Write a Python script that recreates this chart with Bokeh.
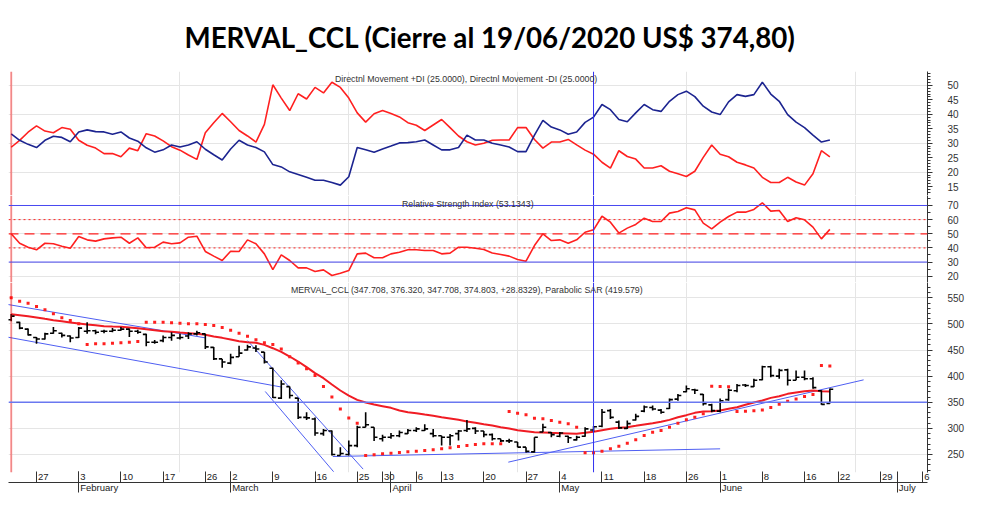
from bokeh.plotting import figure
from bokeh.layouts import column
from bokeh.models import Range1d, LinearAxis, FixedTicker, Span, Label, ColumnDataSource
from bokeh.transform import dodge
from bokeh.embed import file_html
from bokeh.resources import INLINE

# ---------------- data (trading-day index 0 = 22 Jan 2020) ----------------
PLUS_DI = [33.2, 31.0, 29.6, 28.5, 31.0, 32.4, 32.0, 30.5, 33.9, 34.6, 34.0, 33.9, 33.1, 33.9, 31.8, 30.7,
           28.4, 26.9, 27.7, 29.4, 28.7, 29.4, 30.5, 27.9, 26.0, 24.2, 28.0, 31.0, 29.4, 28.5, 27.0, 22.6,
           21.8, 20.1, 19.2, 18.2, 17.2, 17.2, 16.4, 15.5, 18.4, 28.5, 27.7, 26.9, 28.0, 29.0, 30.1, 30.2,
           30.5, 31.1, 29.4, 27.7, 27.7, 28.5, 32.8, 31.1, 31.1, 30.0, 29.4, 28.7, 27.1, 27.1, 32.8, 37.9,
           35.6, 34.6, 33.1, 33.9, 37.2, 39.0, 43.4, 41.6, 38.2, 37.4, 40.5, 43.4, 41.6, 41.0, 44.5, 46.8,
           48.0, 46.1, 42.8, 40.8, 39.9, 44.3, 46.8, 46.2, 46.8, 51.1, 47.0, 44.5, 39.9, 37.3, 35.4, 32.8,
           30.4, 31.1]
MINUS_DI = [28.6, 31.0, 33.8, 36.0, 34.2, 33.6, 35.4, 34.8, 31.0, 29.3, 28.3, 26.4, 26.4, 25.3, 28.3, 27.4,
            33.3, 32.5, 30.8, 28.8, 27.6, 25.9, 24.4, 33.6, 37.1, 40.3, 37.4, 34.4, 32.5, 30.4, 36.5, 50.2,
            45.6, 41.3, 47.1, 45.3, 49.3, 47.4, 51.1, 49.3, 45.6, 40.5, 37.3, 40.2, 41.3, 40.3, 39.1, 37.1,
            36.2, 34.4, 36.3, 38.2, 35.4, 32.5, 30.5, 29.4, 30.0, 31.0, 31.1, 31.1, 35.4, 35.4, 31.3, 28.3,
            30.4, 30.4, 31.3, 29.4, 27.6, 26.2, 23.4, 21.4, 27.4, 25.4, 24.5, 21.4, 21.4, 22.2, 20.3, 19.4,
            18.5, 20.3, 25.1, 29.4, 26.2, 25.3, 23.4, 22.5, 21.4, 18.2, 16.4, 16.4, 18.2, 16.6, 15.5, 19.4,
            27.4, 25.3]
RSI = [50.0, 43.3, 40.5, 38.7, 43.3, 42.9, 41.2, 39.8, 48.1, 45.7, 44.8, 46.4, 47.1, 47.6, 43.3, 47.1,
       40.1, 40.5, 44.1, 42.9, 43.6, 47.6, 48.3, 37.5, 34.2, 31.1, 37.7, 37.5, 45.7, 42.9, 35.8, 24.7,
       35.1, 31.1, 25.9, 25.9, 23.3, 24.5, 20.5, 22.1, 24.0, 35.8, 36.3, 33.0, 33.0, 35.8, 37.0, 38.7,
       38.7, 38.2, 38.2, 35.8, 36.3, 40.5, 40.5, 39.8, 38.9, 36.4, 35.3, 34.2, 31.8, 30.6, 41.7, 50.0,
       45.2, 45.7, 43.3, 45.7, 51.1, 52.8, 62.4, 58.2, 50.5, 54.0, 56.6, 61.0, 58.7, 58.7, 64.6, 65.8,
       68.4, 66.9, 57.5, 53.5, 58.2, 62.2, 65.3, 65.3, 67.2, 71.9, 66.0, 66.5, 58.7, 61.3, 59.9, 54.7,
       46.4, 53.1]
OPEN = [508, 503, 490, 474, 471, 482, 482, 477, 474, 486, 487, 486, 486, 488, 490, 486,
        480, 465, 468, 474, 473, 477, 481, 481, 455, 433, 425, 437, 450, 454, 446, 415,
        358, 380, 358, 321, 318, 290, 295, 248, 250, 267, 302, 302, 280, 283, 286, 290,
        296, 296, 290, 286, 283, 290, 296, 300, 295, 288, 280, 276, 274, 264, 255, 293,
        292, 285, 285, 278, 285, 297, 304, 334, 312, 300, 316, 333, 340, 335, 338, 356,
        370, 374, 365, 345, 333, 355, 372, 383, 380, 393, 418, 400, 412, 392, 398, 395,
        372, 347.708]
HIGH = [519, 504, 491, 475, 483, 494, 483, 478, 494, 503, 489, 489, 492, 494, 491, 489,
        481, 469, 478, 484, 481, 484, 487, 481, 456, 433, 443, 458, 460, 459, 446, 416,
        392, 380, 358, 331, 321, 299, 296, 264, 277, 305, 331, 302, 288, 291, 296, 299,
        302, 308, 299, 286, 289, 297, 316, 302, 295, 290, 280, 280, 274, 264, 283, 309,
        293, 293, 286, 286, 302, 304, 337, 337, 315, 315, 328, 344, 344, 337, 357, 366,
        382, 376, 366, 347, 357, 376, 385, 385, 395, 420, 420, 414, 414, 411, 411, 398,
        373, 376.320]
LOW = [505, 490, 478, 462, 470, 481, 474, 465, 473, 481, 480, 482, 484, 487, 475, 481,
       457, 462, 465, 468, 470, 471, 478, 452, 431, 416, 423, 437, 449, 446, 424, 358,
       356, 357, 318, 316, 286, 286, 248, 248, 248, 264, 302, 276, 275, 280, 283, 289,
       293, 295, 283, 267, 267, 277, 293, 289, 283, 277, 274, 272, 264, 254, 254, 293,
       283, 283, 272, 277, 284, 293, 302, 318, 299, 299, 315, 331, 334, 328, 337, 353,
       369, 366, 344, 331, 331, 353, 369, 379, 379, 392, 398, 395, 382, 392, 392, 376,
       345, 347.708]
CLOSE = [515, 492, 479, 471, 481, 487, 478, 473, 492, 487, 484, 486, 488, 490, 486, 484,
         465, 465, 474, 478, 474, 481, 483, 456, 433, 427, 436, 444, 456, 452, 427, 359,
         385, 363, 321, 320, 291, 296, 250, 252, 267, 302, 307, 283, 283, 286, 292, 296,
         299, 299, 286, 283, 286, 295, 299, 295, 288, 280, 276, 276, 264, 256, 283, 302,
         288, 291, 282, 283, 299, 303, 331, 321, 301, 309, 323, 341, 337, 331, 355, 363,
         376, 373, 347, 334, 353, 373, 382, 382, 392, 418, 401, 411, 392, 398, 395, 378,
         346, 374.803]
MA = [518.6, 516.7, 514.8, 512.3, 509.7, 507.2, 505.2, 502.7, 500.8, 498.9, 497.6, 495.7, 495.0, 494.4,
      493.1, 491.8, 489.9, 488.0, 486.1, 484.8, 483.5, 482.3, 481.0, 479.1, 475.9, 473.3, 470.1, 466.9,
      465.0, 463.8, 459.9, 453.5, 446.5, 437.6, 428.0, 417.2, 405.7, 396.1, 384.0, 372.5, 362.9, 354.6,
      349.5, 345.7, 342.5, 339.3, 334.2, 331.0, 329.1, 326.5, 324.0, 321.4, 318.9, 316.3, 313.1, 310.6,
      308.0, 305.5, 302.3, 299.7, 296.5, 294.6, 292.7, 292.1, 291.4, 290.8, 290.2, 289.5, 291.4, 293.4,
      296.5, 299.1, 301.0, 302.3, 304.8, 307.4, 309.9, 312.5, 316.3, 321.4, 325.3, 329.7, 332.3, 332.9,
      334.2, 337.4, 340.6, 345.1, 349.5, 353.4, 358.4, 361.6, 366.1, 368.7, 371.2, 372.5, 371.2, 370.6]
SAR = [549.9, 543.5, 539.7, 533.3, 526.9, 519.3, 511.6, 506.5, 500.1, 460.6, 461.8, 461.8, 463.1, 463.8,
       465.0, 466.3, 503.3, 503.3, 503.3, 502.0, 501.4, 500.1, 500.1, 498.9, 497.0, 493.0, 488.0, 482.0,
       476.5, 469.5, 463.8, 460.6, 452.0, 437.0, 425.0, 414.0, 401.0, 380.0, 360.0, 337.0, 320.0, 310.0,
       248.0, 249.3, 251.2, 252.5, 253.8, 255.1, 256.3, 257.6, 258.9, 260.8, 262.7, 265.3, 267.2, 269.1,
       270.4, 270.4, 270.4, 332.3, 329.1, 325.9, 319.5, 318.3, 315.1, 311.9, 308.7, 302.3, 253.1, 253.1,
       256.3, 260.8, 265.9, 271.7, 278.0, 286.3, 292.7, 295.9, 302.3, 310.0, 316.3, 321.4, 327.8, 380.8,
       380.2, 379.5, 332.3, 332.9, 333.6, 335.0, 340.0, 346.0, 352.0, 356.0, 361.0, 365.0, 420.4, 419.579]
IDX = list(range(len(CLOSE)))

# hand-drawn trend lines (start idx, start price, end idx, end price)
TREND_X0 = [-0.4, -0.4, 28.0, 30.1, 38.1, 58.9]
TREND_Y0 = [537.2, 474.6, 468.0, 370.6, 246.1, 235.3]
TREND_X1 = [23.0, 32.1, 41.7, 38.2, 84.0, 101.0]
TREND_Y1 = [473.3, 378.9, 222.0, 217.0, 260.8, 392.9]

DAY_TICKS = [3, 8, 13, 18, 23, 26, 31, 36, 41, 44, 48, 51, 56, 61, 65, 70, 75, 80, 84, 89, 94, 98, 103, 108]
DAY_LABELS = ["27", "3", "10", "17", "26", "2", "9", "16", "25", "30", "6", "13", "20", "27", "4", "11",
              "18", "26", "1", "8", "16", "22", "29", "6"]
MONTH_TICKS = [8, 26, 45, 65, 84, 105]
MONTH_LABELS = ["February", "March", "April", "May", "June", "July"]

# ---------------- layout constants ----------------
X0, X1 = -0.32, 108.57
LEFT = 8
FRAME_W = 919
RIGHT = 41
PX = FRAME_W / (X1 - X0)
W = LEFT + FRAME_W + RIGHT
FONT = "Liberation Sans"

CW = {"F": .611, "e": .556, "b": .556, "r": .333, "u": .556, "a": .556, "y": .5, "M": .833, "c": .5,
      "h": .556, "A": .667, "p": .556, "i": .222, "l": .222, "J": .5, "n": .556}


def text_w(s, size):
    return sum(CW.get(ch, .556) for ch in s) * size


x_range = Range1d(X0, X1)


def make_fig(height, y0, y1, top=0, bottom=0):
    p = figure(width=W, height=height, x_range=x_range, y_range=Range1d(y0, y1),
               output_backend="svg", toolbar_location=None,
               x_axis_location=None, y_axis_location=None,
               min_border_left=LEFT, min_border_right=RIGHT,
               min_border_top=top, min_border_bottom=bottom)
    p.outline_line_color = None
    p.background_fill_color = "white"
    p.border_fill_color = "white"
    return p


def right_axis(p, major, minor):
    ax = LinearAxis(ticker=FixedTicker(ticks=major, minor_ticks=minor),
                    axis_line_color="#333333", major_tick_line_color="#333333",
                    minor_tick_line_color="#333333",
                    major_tick_out=5, major_tick_in=0, minor_tick_out=3, minor_tick_in=0,
                    major_label_standoff=15, major_label_text_font=FONT,
                    major_label_text_font_size="10px", major_label_text_color="#333333")
    p.add_layout(ax, "right")


def line_axis(p, loc):
    # a bare axis line used as the black separator between panels
    ax = LinearAxis(ticker=FixedTicker(ticks=[], minor_ticks=[]), axis_line_color="#333333",
                    major_tick_out=0, major_tick_in=0, minor_tick_out=0, minor_tick_in=0,
                    major_label_standoff=0)
    p.add_layout(ax, loc)


def vlines(p):
    p.add_layout(Span(location=0, dimension="height", line_color="#ff0000", line_alpha=0.4, line_width=2))
    p.add_layout(Span(location=69, dimension="height", line_color="#3030f0", line_width=1))


def panel_label(p, x, y, text):
    p.add_layout(Label(x=x, y=y, text=text, text_align="center", text_baseline="middle",
                       text_font=FONT, text_font_size="8.8px", text_color="#333333"))


RED = "#ff2020"
NAVY = "#1c2490"

# ---------------- panel 1: DMI ----------------
p1 = make_fig(195, 11.91, 54.80, top=70)
p1.title.text = "MERVAL_CCL (Cierre al 19/06/2020 US$ 374,80)"
p1.title.align = "left"
p1.title.offset = 176
p1.title.standoff = 36
p1.title.text_font = "Lato"
p1.title.text_font_size = "27.7px"
p1.title.text_font_style = "bold"
p1.title.text_color = "black"
vlines(p1)
p1.line(IDX, MINUS_DI, line_color=RED, line_width=1.6)
p1.line(IDX, PLUS_DI, line_color=NAVY, line_width=1.6)
right_axis(p1, list(range(15, 55, 5)), list(range(12, 55)))
line_axis(p1, "below")
panel_label(p1, 53.9, 52.1, "Directnl Movement +DI (25.0000), Directnl Movement -DI (25.0000)")

# ---------------- panel 2: RSI ----------------
p2 = make_fig(87, 15.55, 77.07)
vlines(p2)
p2.add_layout(Span(location=70, dimension="width", line_color="#4848f0", line_width=1))
p2.add_layout(Span(location=30, dimension="width", line_color="#4848f0", line_width=1))
p2.add_layout(Span(location=60, dimension="width", line_color=RED, line_width=1, line_dash="2 3"))
p2.add_layout(Span(location=40, dimension="width", line_color=RED, line_width=1, line_dash="2 3"))
p2.add_layout(Span(location=50, dimension="width", line_color=RED, line_width=1.2, line_dash="10 6"))
p2.line(IDX, RSI, line_color=RED, line_width=1.6)
right_axis(p2, list(range(20, 80, 10)), list(range(20, 80, 5)))
line_axis(p2, "below")
panel_label(p2, 54.1, 71.4, "Relative Strength Index (53.1343)")

# ---------------- panel 3: price ----------------
p3 = make_fig(218, 215.5, 579.3, bottom=28)
vlines(p3)
p3.add_layout(Span(location=350, dimension="width", line_color="#6a78f0", line_width=1.5))
p3.segment(TREND_X0, TREND_Y0, TREND_X1, TREND_Y1, line_color="#4f5ff2", line_width=1)
p3.line(IDX, MA, line_color="#f01c24", line_width=2)
p3.scatter(IDX, SAR, marker="square", size=3, fill_color=RED, line_color=None)
src = ColumnDataSource(dict(x=IDX, o=OPEN, h=HIGH, l=LOW, c=CLOSE))
p3.segment(x0="x", y0="l", x1="x", y1="h", source=src, line_color="black", line_width=1.6)
p3.segment(x0=dodge("x", -0.4), y0="o", x1="x", y1="o", source=src, line_color="black", line_width=1.6)
p3.segment(x0="x", y0="c", x1=dodge("x", 0.4), y1="c", source=src, line_color="black", line_width=1.6)
right_axis(p3, list(range(250, 600, 50)), list(range(220, 580, 10)))
panel_label(p3, 54.0, 564, "MERVAL_CCL (347.708, 376.320, 347.708, 374.803, +28.8329), Parabolic SAR (419.579)")

# x axes: day labels / tick line with inward ticks / month ticks going down / month labels
LSZ = 9.5
day_centers = [t + (1.5 + text_w(s, LSZ) / 2) / PX for t, s in zip(DAY_TICKS, DAY_LABELS)]
axA = LinearAxis(ticker=FixedTicker(ticks=day_centers),
                 major_label_overrides={c: s for c, s in zip(day_centers, DAY_LABELS)},
                 axis_line_color=None, major_tick_line_color=None, minor_tick_line_color=None,
                 major_tick_out=0, major_tick_in=0, minor_tick_out=0, minor_tick_in=0,
                 major_label_standoff=1, major_label_text_font=FONT,
                 major_label_text_font_size=f"{LSZ}px", major_label_text_color="#222222")
p3.add_layout(axA, "below")
axB = LinearAxis(ticker=FixedTicker(ticks=[], minor_ticks=DAY_TICKS + MONTH_TICKS),
                 axis_line_color="#333333", minor_tick_line_color="#333333",
                 major_tick_in=0, major_tick_out=0, minor_tick_in=11, minor_tick_out=0,
                 major_label_standoff=0)
p3.add_layout(axB, "below")
axC = LinearAxis(ticker=FixedTicker(ticks=[], minor_ticks=MONTH_TICKS),
                 axis_line_color=None, minor_tick_line_color="#333333",
                 major_tick_in=0, major_tick_out=0, minor_tick_in=0, minor_tick_out=10,
                 major_label_standoff=0)
p3.add_layout(axC, "below")
month_centers = [t + (1.5 + text_w(s, LSZ) / 2) / PX for t, s in zip(MONTH_TICKS, MONTH_LABELS)]
axD = LinearAxis(ticker=FixedTicker(ticks=month_centers),
                 major_label_overrides={c: s for c, s in zip(month_centers, MONTH_LABELS)},
                 axis_line_color=None, major_tick_line_color=None, minor_tick_line_color=None,
                 major_tick_out=0, major_tick_in=0, minor_tick_out=0, minor_tick_in=0,
                 major_label_standoff=-11, major_label_text_font=FONT,
                 major_label_text_font_size=f"{LSZ}px", major_label_text_color="#222222")
p3.add_layout(axD, "below")

layout = column(p1, p2, p3, spacing=0)
open("out.html", "w").write(file_html(layout, INLINE))
